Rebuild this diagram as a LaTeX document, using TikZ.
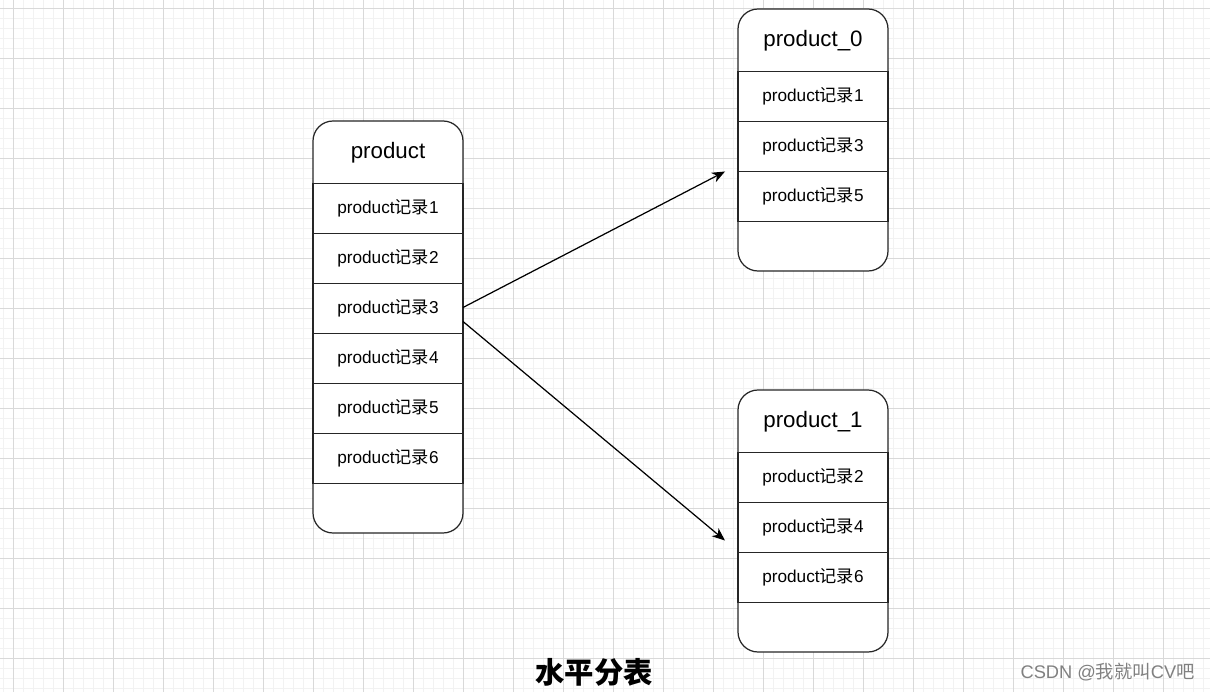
\documentclass[tikz,border=0pt]{standalone}
\usepackage{fontspec}
\setmainfont{Liberation Sans}
\newfontfamily\cjk{Noto Sans CJK SC}
\usetikzlibrary{arrows.meta, positioning}

\newcommand\prodrec[1]{product{\cjk 记录}#1}

\begin{document}
\begin{tikzpicture}[
  >=Stealth,
  % --- grid ---
  gridmin/.style={draw=black!5, line width=0.4pt},
  gridmaj/.style={draw=black!15, line width=0.5pt},
  % --- table parts ---
  tbl/.style={draw=black!85, fill=white, line width=0.7pt,
    rounded corners=0.4cm, minimum width=3cm, outer sep=0pt},
  hdr/.style={minimum width=3cm, minimum height=1.25cm, inner sep=0pt,
    outer sep=0pt, font=\fontsize{12.7}{14}\selectfont},
  recrow/.style={draw=black!85, line width=0.7pt, minimum width=3cm,
    minimum height=1cm, inner sep=0pt, outer sep=0pt,
    font=\fontsize{9.8}{11}\selectfont},
  % --- labels ---
  ttl/.style={font=\cjk\bfseries\fontsize{16.7}{19}\selectfont},
  wmark/.style={text=black!50, font=\fontsize{10.4}{12}\selectfont},
  % --- arrows ---
  arr/.style={-{Stealth[length=2.6mm, width=2.1mm, inset=0.8mm]}, line width=0.7pt, draw=black},
]

\useasboundingbox (0,0) rectangle (24.2,-13.84);

% ===================== GRID =====================

\begin{scope}
  \clip (0,0) rectangle (24.2,-13.84);
  \draw[gridmin, xshift=0.06cm, yshift=0.04cm] (-1,-15) grid[step=0.2] (25,1);
  \draw[gridmaj, xshift=0.26cm, yshift=-0.16cm] (-1,-15) grid[step=1] (25,1);
\end{scope}

% ===================== SOURCE TABLE =====================

\node[tbl, minimum height=8.24cm] (prod) at (7.76,-6.54) {};
\node[hdr, below=0pt of prod.north] (prodh) {product};
\node[recrow, below=0pt of prodh] (p1) {\prodrec{1}};
\node[recrow, below=0pt of p1] (p2) {\prodrec{2}};
\node[recrow, below=0pt of p2] (p3) {\prodrec{3}};
\node[recrow, below=0pt of p3] (p4) {\prodrec{4}};
\node[recrow, below=0pt of p4] (p5) {\prodrec{5}};
\node[recrow, below=0pt of p5] (p6) {\prodrec{6}};

% ===================== SHARD TABLES =====================

\node[tbl, minimum height=5.24cm] (prodA) at (16.26,-2.8) {};
\node[hdr, below=0pt of prodA.north] (ah) {product\_0};
\node[recrow, below=0pt of ah] (a1) {\prodrec{1}};
\node[recrow, below=0pt of a1] (a2) {\prodrec{3}};
\node[recrow, below=0pt of a2] (a3) {\prodrec{5}};

\node[tbl, minimum height=5.24cm] (prodB) at (16.26,-10.42) {};
\node[hdr, below=0pt of prodB.north] (bh) {product\_1};
\node[recrow, below=0pt of bh] (b1) {\prodrec{2}};
\node[recrow, below=0pt of b1] (b2) {\prodrec{4}};
\node[recrow, below=0pt of b2] (b3) {\prodrec{6}};

% ===================== CONNECTIONS =====================

\coordinate (t0) at ([xshift=-0.26cm]a2.south west);
\coordinate (t1) at ([xshift=-0.26cm, yshift=0.24cm]b2.south west);

\draw[arr] ([yshift=0.02cm]p3.east) -- (t0);
\draw[arr] ([yshift=-0.26cm]p3.east) -- (t1);

% caption and mark
\node[ttl] (title) at (11.88,-13.44) {水平分表};
\node[wmark] (wm) at (22.15,-13.44) {CSDN @{\cjk 我就叫}CV{\cjk 吧}};

\end{tikzpicture}
\end{document}
